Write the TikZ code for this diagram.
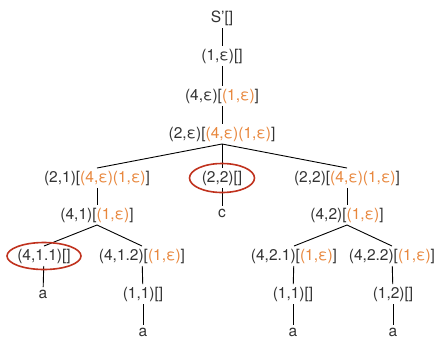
\documentclass[tikz,border=0pt]{standalone}
\usepackage{fontspec}
\setmainfont{TeX Gyre Heros}
\usepackage{tikz}
\usetikzlibrary{positioning}
\definecolor{stackorange}{HTML}{E8873D}
\definecolor{markred}{HTML}{C0321E}
\definecolor{txtgray}{HTML}{333333}
\newcommand{\stk}[1]{\textcolor{stackorange}{#1}}

\begin{document}
\begin{tikzpicture}[
    x=1pt, y=-1pt,
    st/.style={text=txtgray, inner sep=2.5pt, font=\fontsize{15.5}{17}\selectfont},
    edge/.style={black, line width=0.9pt},
    ring/.style={markred, line width=1.6pt}
]
    \useasboundingbox (0,0) rectangle (439,341);

    % spine
    \node[st] (s)   at (222,18)  {S’[]};
    \node[st] (n1)  at (222,56)  {(1,ε)[]};
    \node[st] (n4)  at (222,96)  {(4,ε)[\stk{(1,ε)}]};
    \node[st] (n2)  at (222,134) {(2,ε)[\stk{(4,ε)(1,ε)}]};

    % left branch
    \node[st] (l21)  at (97,178)  {(2,1)[\stk{(4,ε)(1,ε)}]};
    \node[st] (l41)  at (97,215)  {(4,1)[\stk{(1,ε)}]};
    \node[st] (l411) at (44,256)  {(4,1.1)[]};
    \node[st] (l412) at (142,256) {(4,1.2)[\stk{(1,ε)}]};
    \node[st] (la1)  at (43,294)  {a};
    \node[st] (l11)  at (143,294) {(1,1)[]};
    \node[st] (la2)  at (143,332) {a};

    % middle branch
    \node[st] (m22) at (222,178) {(2,2)[]};
    \node[st] (mc)  at (222,213) {c};

    % right branch
    \node[st] (r22)  at (347,178) {(2,2)[\stk{(4,ε)(1,ε)}]};
    \node[st] (r42)  at (347,215) {(4,2)[\stk{(1,ε)}]};
    \node[st] (r421) at (294,256) {(4,2.1)[\stk{(1,ε)}]};
    \node[st] (r422) at (392,256) {(4,2.2)[\stk{(1,ε)}]};
    \node[st] (r11)  at (293,294) {(1,1)[]};
    \node[st] (r12)  at (393,294) {(1,2)[]};
    \node[st] (ra1)  at (293,332) {a};
    \node[st] (ra2)  at (393,332) {a};

    % edges
    \draw[edge] (s) -- (n1);
    \draw[edge] (n1) -- (n4);
    \draw[edge] (n4) -- (n2);
    \draw[edge] (n2.south) -- (l21.north);
    \draw[edge] (n2.south) -- (m22.north);
    \draw[edge] (n2.south) -- (r22.north);
    \draw[edge] (l21) -- (l41);
    \draw[edge] (l41.south) -- (l411.north);
    \draw[edge] (l41.south) -- (l412.north);
    \draw[edge] (l411) -- (la1);
    \draw[edge] (l412) -- (l11);
    \draw[edge] (l11) -- (la2);
    \draw[edge] (m22) -- (mc);
    \draw[edge] (r22) -- (r42);
    \draw[edge] (r42.south) -- (r421.north);
    \draw[edge] (r42.south) -- (r422.north);
    \draw[edge] (r421) -- (r11);
    \draw[edge] (r422) -- (r12);
    \draw[edge] (r11) -- (ra1);
    \draw[edge] (r12) -- (ra2);

    % marked nodes
    \draw[ring] (m22) ellipse (32.5 and 14.5);
    \draw[ring] (l411) ellipse (37 and 13.5);
\end{tikzpicture}
\end{document}
